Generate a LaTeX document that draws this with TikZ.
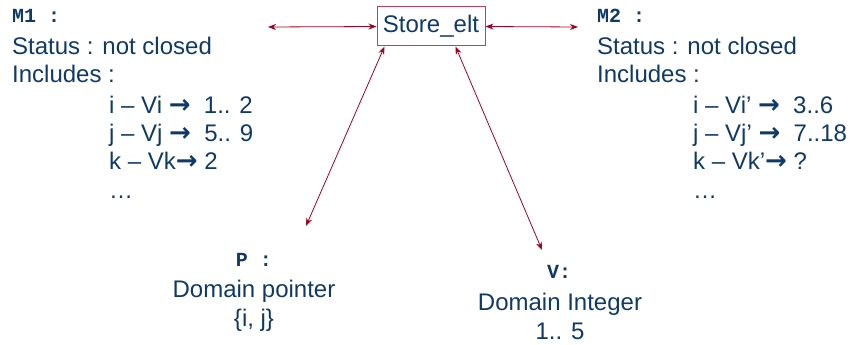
\documentclass[tikz,border=0pt]{standalone}
\usepackage{fontspec}
\setmainfont{Liberation Sans}
\newfontfamily\codefont{Liberation Mono}
\newfontfamily\symfont{DejaVu Sans}
\newcommand\arr{{\symfont\bfseries\fontsize{26}{28.3}\selectfont →}}
\usetikzlibrary{arrows.meta}
\definecolor{navy}{HTML}{0F3A68}
\definecolor{darkred}{HTML}{A50021}
\definecolor{boxred}{HTML}{C0405A}
\tikzset{
  txt/.style={text=navy,inner sep=0pt,font=\fontsize{24}{28.3}\selectfont,align=left},
  ctxt/.style={txt,align=center},
  code/.style={text=navy,inner sep=0pt,font=\fontsize{20}{24}\selectfont\codefont\bfseries},
  link/.style={darkred,line width=0.8pt,{Stealth[length=8pt,width=6pt]}-{Stealth[length=8pt,width=6pt]}}
}
\begin{document}
\begin{tikzpicture}[x=1pt,y=-1pt]
            \useasboundingbox (0,0) rectangle (852,345);
            % central element
            \node[txt,draw=boxred,line width=1pt,minimum width=108pt,minimum height=39pt] (store) at (431,26.5) {Store\_elt};
            % left module (base = last line)
            \node[code,anchor=base west] (m1name) at (12,23) {M1 :};
            \node[txt,anchor=base west] (m1stat) at (12,83) {Status : not closed\\Includes :};
            \node[txt,anchor=base west] (m1list) at (109,198) {i -- Vi \arr\ \ 1.. 2\\j -- Vj \arr\ \ 5.. 9\\k -- Vk\arr\ 2\\…};
            % right module
            \node[code,anchor=base west] (m2name) at (597,23) {M2 :};
            \node[txt,anchor=base west] (m2stat) at (597,83) {Status : not closed\\Includes :};
            \node[txt,anchor=base west] (m2list) at (693,198) {i -- Vi’ \arr\ \ 3..6\\j -- Vj’ \arr\ \ 7..18\\k -- Vk’\arr\ ?\\…};
            % domains
            \node[code,anchor=base] (pname) at (254,266) {P :};
            \node[ctxt,anchor=base] (pdom) at (254,326) {Domain pointer\\\{i, j\}};
            \node[code,anchor=base] (vname) at (559,278) {V:};
            \node[ctxt,anchor=base] (vdom) at (560,339) {Domain Integer\\1.. 5};
            % free arrow ends
            \coordinate (lend) at (268,27);
            \coordinate (rend) at (578,27);
            \coordinate (ptip) at (306,226);
            \coordinate (vtip) at (542,250);
            \draw[link] (lend) -- (store.west);
            \draw[link] (store.east) -- (rend);
            \draw[link] ([xshift=8pt]store.south west) -- (ptip);
            \draw[link] ([xshift=-30pt]store.south east) -- (vtip);
        \end{tikzpicture}
\end{document}
